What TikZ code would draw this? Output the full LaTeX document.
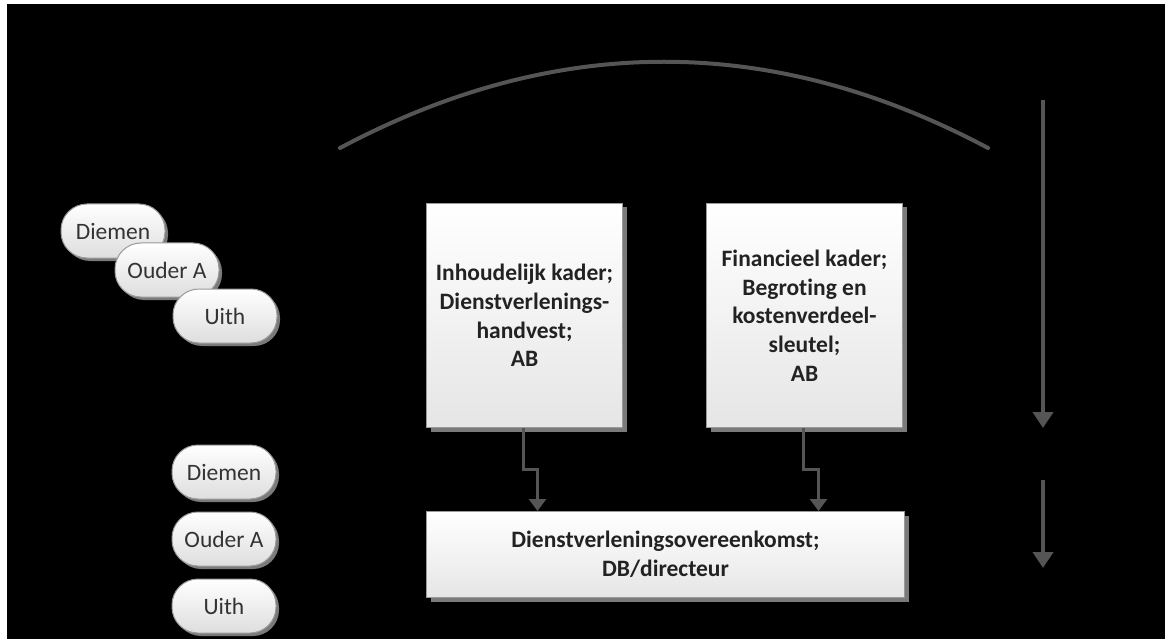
\documentclass[tikz,border=0pt]{standalone}
\usepackage{fontspec}
\setmainfont{Carlito}[RawFeature={-liga;-clig;-dlig}]
\usetikzlibrary{arrows.meta,shadows}
\definecolor{arrgray}{HTML}{555555}
\definecolor{txtgray}{HTML}{222222}
\definecolor{pilltxt}{HTML}{333333}
\definecolor{edgegray}{HTML}{9a9a9a}
\definecolor{shadgray}{HTML}{7a7a7a}
\tikzset{
  pill/.style={draw=edgegray, line width=1pt, rectangle, rounded corners=26pt,
    minimum width=104pt, minimum height=54pt, inner sep=0pt,
    top color=white, bottom color=black!13, text=pilltxt,
    font=\fontsize{23.5}{28}\selectfont,
    drop shadow={shadow xshift=3pt, shadow yshift=-3pt, fill=shadgray, opacity=1}},
  boxnode/.style={draw=edgegray, line width=1pt, rectangle, inner sep=0pt,
    anchor=north west, align=center,
    top color=white, bottom color=black!10, text=txtgray,
    font=\bfseries\fontsize{23.5}{28.7}\selectfont,
    drop shadow={shadow xshift=4pt, shadow yshift=-4pt, fill=shadgray, opacity=1}},
  conn/.style={draw=arrgray, line width=3pt,
    -{Triangle[width=17pt,length=12pt]}},
  bigarr/.style={draw=arrgray, line width=4.5pt,
    -{Triangle[width=20pt,length=16pt]}},
  arcline/.style={draw=arrgray, line width=4pt, line cap=round}
}
\begin{document}
\begin{tikzpicture}[x=1pt,y=-1pt]
\useasboundingbox (0,0) rectangle (1170,639);
\fill[white] (0,0) rectangle (1170,639);
\fill[black] (7,4) rectangle (1165,639);

% arc
\coordinate (arcL) at (340,148);
\coordinate (arcR) at (988,148);
\draw[arcline] (arcL) .. controls (556,33) and (772,33) .. (arcR);

% top-left overlapping pills
\node[pill] (d1) at (113,231) {Diemen};
\node[pill] (o1) at (167,270) {Ouder A};
\node[pill] (u1) at (225,316) {Uith};

% bottom-left pills
\node[pill] (d2) at (224,472) {Diemen};
\node[pill] (o2) at (224,539) {Ouder A};
\node[pill] (u2) at (224,606) {Uith};

% boxes
\node[boxnode, minimum width=196pt, minimum height=224pt] (lb) at (426,203)
  {Inhoudelijk kader;\\Dienstverlenings-\\handvest;\\AB};
\node[boxnode, minimum width=196pt, minimum height=224pt] (rb) at (706,203)
  {Financieel kader;\\Begroting en\\kostenverdeel-\\sleutel;\\AB};
\node[boxnode, minimum width=478pt, minimum height=86pt] (bb) at (426,511)
  {Dienstverleningsovereenkomst;\\DB/directeur};

% connectors
\draw[conn] ([xshift=-1pt]lb.south) -- ++(0,41) -- ++(14,0) coordinate (j1) -- (j1 |- bb.north);
\draw[conn] ([xshift=-1pt]rb.south) -- ++(0,41) -- ++(15,0) coordinate (j2) -- (j2 |- bb.north);

% right arrows
\coordinate (a1s) at (1043,100);
\coordinate (a1e) at (1043,428);
\coordinate (a2s) at (1043,480);
\coordinate (a2e) at (1043,568);
\draw[bigarr] (a1s) -- (a1e);
\draw[bigarr] (a2s) -- (a2e);
\end{tikzpicture}
\end{document}
